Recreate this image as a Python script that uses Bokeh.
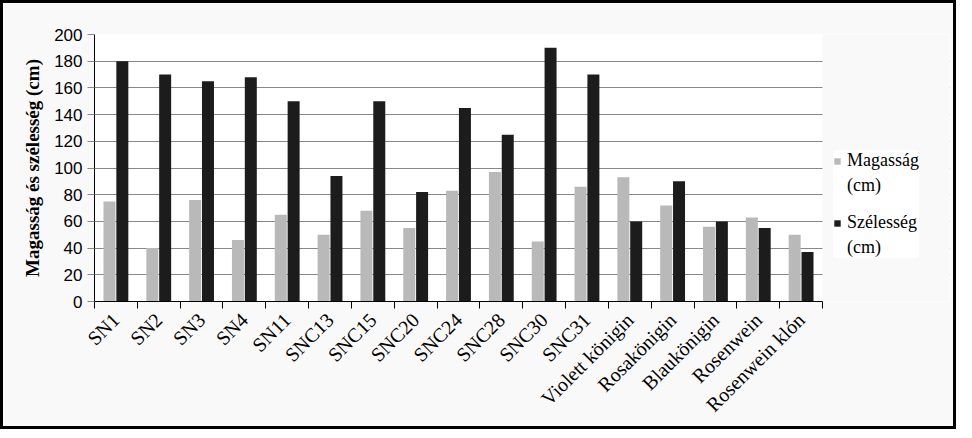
import numpy as np
from bokeh.plotting import figure
from bokeh.models import FixedTicker, Legend, LegendItem, ColumnDataSource, Range1d, BoxAnnotation
from bokeh.embed import file_html
from bokeh.resources import INLINE

categories = ["SN1", "SN2", "SN3", "SN4", "SN11", "SNC13", "SNC15", "SNC20", "SNC24",
              "SNC28", "SNC30", "SNC31", "Violett königin", "Rosakönigin", "Blaukönigin",
              "Rosenwein", "Rosenwein klón"]
magassag = [75, 40, 76, 46, 65, 50, 68, 55, 83, 97, 45, 86, 93, 72, 56, 63, 50]
szelesseg = [180, 170, 165, 168, 150, 94, 150, 82, 145, 125, 190, 170, 60, 90, 60, 55, 37]
y_ticks = [0, 20, 40, 60, 80, 100, 120, 140, 160, 180, 200]

n = len(categories)
idx = np.arange(n)
src = ColumnDataSource(dict(xg=idx + 0.5 - 0.15, xb=idx + 0.5 + 0.15,
                            mag=magassag, sze=szelesseg))

PLOT_W = 728          # width of the bar area in px
FRAME_W = 855         # frame includes room for the legend on the right
BG = "#f9f9f9"
x_end = n * FRAME_W / PLOT_W

p = figure(frame_width=FRAME_W, frame_height=267, output_backend="svg", toolbar_location=None,
           x_range=Range1d(0, x_end), y_range=Range1d(0, 200),
           min_border_left=91, min_border_right=4, min_border_top=31, min_border_bottom=118)
p.styles = {"border": "3px solid black"}
p.border_fill_color = BG
p.background_fill_color = "white"
p.outline_line_color = None

# background colour for the legend area right of the bars (covers grid lines there)
p.add_layout(BoxAnnotation(left=n, fill_color=BG, fill_alpha=1, line_color=None,
                           level="glyph"))

rg = p.vbar(x="xg", top="mag", width=0.28, bottom=0, source=src,
            fill_color="#b9b9b9", line_color=None)
rb = p.vbar(x="xb", top="sze", width=0.28, bottom=0, source=src,
            fill_color="#1c1c1c", line_color=None)
dummy = p.vbar(x=[], top=[], width=0.1, fill_alpha=0, line_alpha=0)

# x axis
xt = FixedTicker(ticks=list(idx + 0.5), minor_ticks=list(range(n + 1)))
p.xaxis.ticker = xt
p.xaxis.bounds = (0, n)
p.xaxis.major_label_overrides = {float(i + 0.5): c for i, c in enumerate(categories)}
p.xaxis.major_label_orientation = np.pi / 4
p.xaxis.major_tick_line_color = None
p.xaxis.minor_tick_line_color = "black"
p.xaxis.minor_tick_out = 7
p.xaxis.minor_tick_in = 0
p.xaxis.axis_line_color = "black"
p.xaxis.major_label_text_font = "Liberation Serif"
p.xaxis.major_label_text_font_size = "20px"
p.xaxis.major_label_text_color = "black"
p.xaxis.major_label_standoff = 8
p.xgrid.grid_line_color = None

# y axis
p.yaxis.ticker = FixedTicker(ticks=y_ticks)
p.yaxis.minor_tick_line_color = None
p.yaxis.major_tick_out = 7
p.yaxis.major_tick_in = 0
p.yaxis.major_tick_line_color = "#888888"
p.yaxis.axis_line_color = "black"
p.yaxis.major_label_text_font = "Liberation Sans"
p.yaxis.major_label_text_font_size = "17px"
p.yaxis.major_label_text_color = "black"
p.yaxis.major_label_standoff = 5
p.yaxis.axis_label = "Magasság és szélesség (cm)"
p.yaxis.axis_label_text_font = "Liberation Serif"
p.yaxis.axis_label_text_font_style = "bold"
p.yaxis.axis_label_text_font_size = "19px"
p.yaxis.axis_label_text_color = "black"
p.yaxis.axis_label_standoff = 8
p.ygrid.grid_line_color = "#888888"
p.ygrid.grid_line_width = 1

legend = Legend(items=[LegendItem(label="Magasság", renderers=[rg]),
                       LegendItem(label="(cm)", renderers=[dummy]),
                       LegendItem(label=" ", renderers=[dummy]),
                       LegendItem(label="Szélesség", renderers=[rb]),
                       LegendItem(label="(cm)", renderers=[dummy])],
                location=(PLOT_W + 11, 43), orientation="vertical")
legend.background_fill_color = "white"
legend.border_line_color = None
legend.label_text_font = "Liberation Serif"
legend.label_text_font_size = "18px"
legend.label_text_color = "black"
legend.glyph_width = 8
legend.glyph_height = 8
legend.spacing = 4
legend.padding = 10
legend.margin = 0
legend.label_standoff = 6
p.add_layout(legend, "center")

open("out.html", "w").write(file_html(p, INLINE))
